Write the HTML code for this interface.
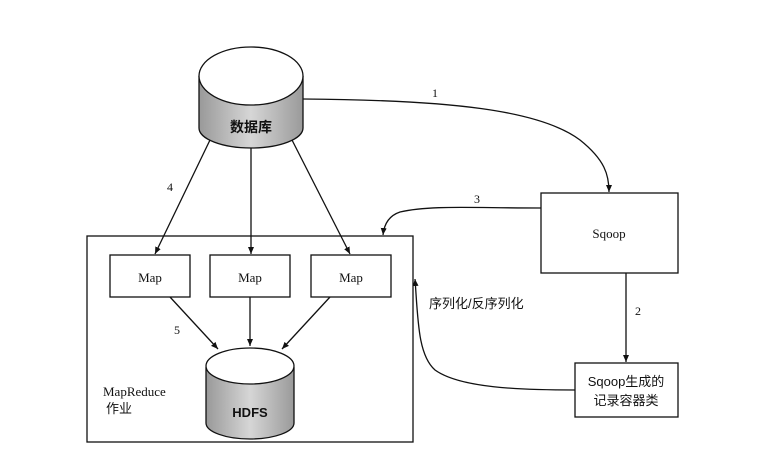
<!DOCTYPE html>
<html><head><meta charset="utf-8"><style>
html,body{margin:0;padding:0;background:#fff;}
svg{display:block;}
text{font-family:"Liberation Serif","Noto Serif CJK SC",serif;fill:#111;}
.cj{font-family:"Liberation Sans","Noto Sans CJK SC",sans-serif;}
</style></head><body>
<svg width="772" height="457" viewBox="0 0 772 457" xmlns="http://www.w3.org/2000/svg">
<defs>
<marker id="a" markerWidth="8" markerHeight="8" refX="7" refY="4" orient="auto" markerUnits="userSpaceOnUse">
<path d="M0,1 L7,4 L0,7 Z" fill="#111"/></marker>
<linearGradient id="g" x1="0" x2="1"><stop offset="0" stop-color="#999"/><stop offset="0.5" stop-color="#d6d6d6"/><stop offset="1" stop-color="#9a9a9a"/></linearGradient>
</defs>
<g stroke="#111" stroke-width="1.3" fill="none">
<path d="M199,76 L199,128 A52,20 0 0 0 303,128 L303,76" fill="url(#g)"/>
<ellipse cx="251" cy="76" rx="52" ry="29" fill="#fff"/>
<rect x="87" y="236" width="326" height="206" fill="none"/>
<rect x="110" y="255" width="80" height="42" fill="#fff"/>
<rect x="210" y="255" width="80" height="42" fill="#fff"/>
<rect x="311" y="255" width="80" height="42" fill="#fff"/>
<path d="M206,367 L206,423 A44,16 0 0 0 294,423 L294,367" fill="url(#g)"/>
<ellipse cx="250" cy="366" rx="44" ry="18" fill="#fff"/>
<rect x="541" y="193" width="137" height="80" fill="#fff"/>
<rect x="575" y="363" width="103" height="54" fill="#fff"/>
<line x1="210" y1="140" x2="155" y2="254" marker-end="url(#a)"/>
<line x1="251" y1="148" x2="251" y2="254" marker-end="url(#a)"/>
<line x1="292" y1="140" x2="350" y2="254" marker-end="url(#a)"/>
<line x1="170" y1="297" x2="218" y2="349" marker-end="url(#a)"/>
<line x1="250" y1="297" x2="250" y2="346" marker-end="url(#a)"/>
<line x1="330" y1="297" x2="282" y2="349" marker-end="url(#a)"/>
<path d="M303,99 C450,100 540,110 580,140 C605,160 609,175 609,192" marker-end="url(#a)"/>
<path d="M541,208 C470,208 430,205 400,212 C388,216 384,225 383,235" marker-end="url(#a)"/>
<line x1="626" y1="273" x2="626" y2="362" marker-end="url(#a)"/>
<path d="M575,390 C520,390 460,388 435,370 C418,355 418,320 415,279" marker-end="url(#a)"/>
</g>
<text x="251" y="132" text-anchor="middle" class="cj" font-size="14" font-weight="bold">数据库</text>
<text x="150" y="282" text-anchor="middle" font-size="13">Map</text>
<text x="250" y="282" text-anchor="middle" font-size="13">Map</text>
<text x="351" y="282" text-anchor="middle" font-size="13">Map</text>
<text x="250" y="417" text-anchor="middle" font-size="13" class="cj" font-weight="bold">HDFS</text>
<text x="103" y="396" font-size="13">MapReduce</text>
<text x="106" y="413" class="cj" font-size="13">作业</text>
<text x="609" y="238" text-anchor="middle" font-size="13">Sqoop</text>
<text x="626" y="386" text-anchor="middle" class="cj" font-size="13">Sqoop生成的</text>
<text x="626" y="405" text-anchor="middle" class="cj" font-size="13">记录容器类</text>
<text x="429" y="308" class="cj" font-size="13">序列化/反序列化</text>
<text x="432" y="97" font-size="12">1</text>
<text x="635" y="315" font-size="12">2</text>
<text x="474" y="203" font-size="12">3</text>
<text x="167" y="191" font-size="12">4</text>
<text x="174" y="334" font-size="12">5</text>
</svg>
</body></html>
